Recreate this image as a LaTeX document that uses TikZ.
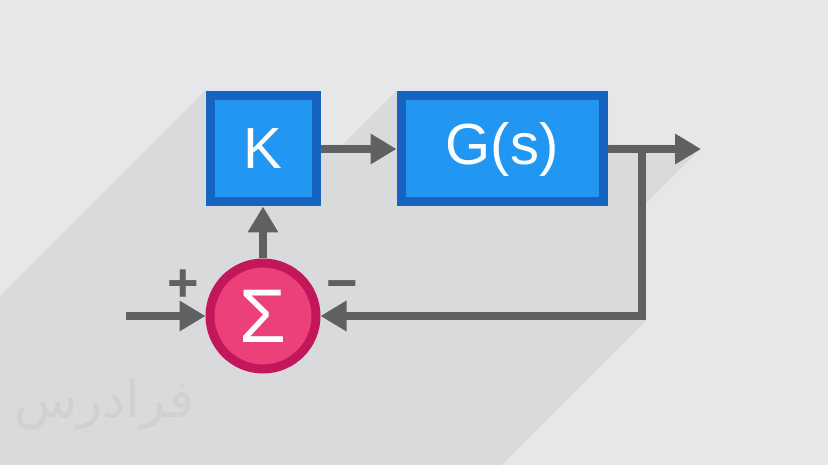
\documentclass[tikz,border=0pt]{standalone}
\usepackage{fontspec}
\setmainfont{Liberation Sans}
\newfontfamily\farsifont[Script=Arabic]{DejaVu Sans}
\TeXXeTstate=1
\usetikzlibrary{arrows.meta,positioning}
\definecolor{bgcol}{HTML}{E6E7E8}
\definecolor{shadowcol}{HTML}{D9DADC}
\definecolor{blueline}{HTML}{1565C0}
\definecolor{bluefill}{HTML}{2196F3}
\definecolor{pinkline}{HTML}{C2185B}
\definecolor{pinkfill}{HTML}{EC407A}
\definecolor{arrowgray}{HTML}{5F6062}
\definecolor{markcol}{HTML}{D0D1D3}
\tikzset{
  box/.style={draw=blueline, fill=bluefill, line width=9pt, minimum height=106pt, text=white, inner sep=0pt, font=\fontsize{58}{60}\selectfont},
  sumnode/.style={draw=pinkline, fill=pinkfill, circle, line width=9pt, minimum size=106pt, inner sep=0pt, text=white, font=\fontsize{76}{80}\selectfont},
  arr/.style={-{Triangle[length=26pt,width=29pt]}, line width=8pt, draw=arrowgray},
  sign/.style={text=arrowgray, inner sep=0pt, font=\bfseries\fontsize{54}{54}\selectfont}
}

\begin{document}
\begin{tikzpicture}[x=1pt,y=-1pt]
\useasboundingbox (0,0) rectangle (828,465);
\fill[bgcol] (0,0) rectangle (828,465);
% long shadow
\fill[shadowcol] (0,296) -- (205,91) -- (320,91) -- (320,145) -- (342,145) -- (396,91) -- (608,91) -- (608,145) -- (675,145) -- (675,134) -- (700,149) -- (646,203) -- (646,320) -- (501,465) -- (0,465) -- cycle;

\node[text=markcol, font=\farsifont\fontsize{52}{56}\selectfont] (mark) at (104,404) {\beginR فرادرس\endR};

\node[box, minimum width=106pt] (K) at (263,149) {K};
\node[box, minimum width=202pt] (G) at (502,149) {\raisebox{3pt}{G(s)}};
\node[sumnode] (sum) at (263,316) {Σ};

\coordinate (in) at (126,316);
\coordinate (out) at (701,149);
\coordinate (tap) at (642,149);

\node[sign] (plus) at (183,286) {+};
\node[sign] (minus) at (342,291) {−};

\draw[arr] (in) -- (sum);
\draw[arr] (sum) -- (K);
\draw[arr] (K) -- (G);
\draw[arr] (G) -- (out);
\draw[arr] (tap) |- (sum);
\end{tikzpicture}
\end{document}
